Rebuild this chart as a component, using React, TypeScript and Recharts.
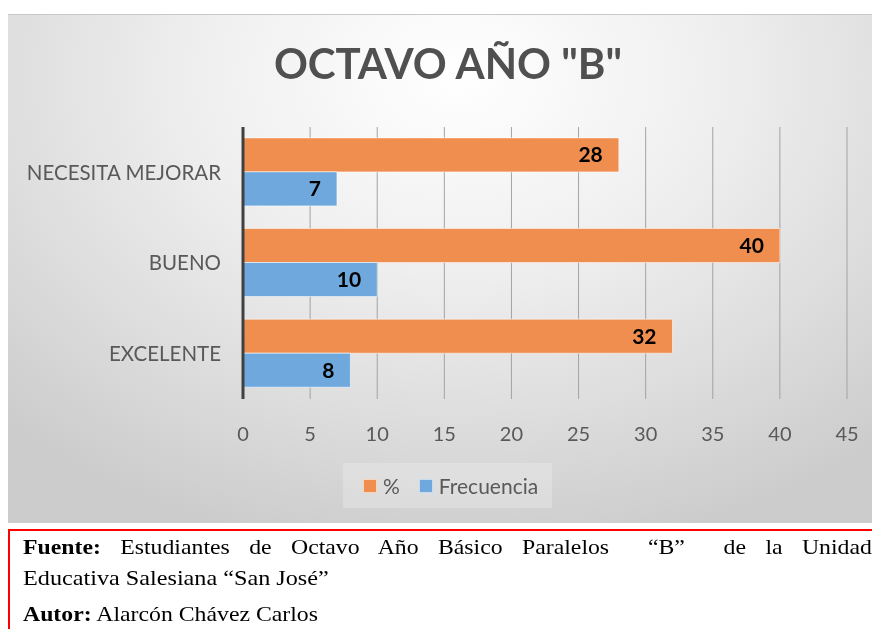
import { Bar, BarChart, CartesianGrid, LabelList, Legend, XAxis, YAxis } from "recharts"

const categories = ["NECESITA MEJORAR", "BUENO", "EXCELENTE"]
const porcentaje = [28, 40, 32]
const frecuencia = [7, 10, 8]
const xTicks = [0, 5, 10, 15, 20, 25, 30, 35, 40, 45]

const data = categories.map((name, i) => ({
  name,
  pct: porcentaje[i],
  frec: frecuencia[i],
}))

const ORANGE = "#ef8e4f"
const BLUE = "#6fa8dc"
const TEXT = "#595959"
const FONT = "Lato, 'Open Sans', sans-serif"

function LegendBox(props: any) {
  const items = props.payload || []
  return (
    <div
      style={{
        width: 209,
        height: 45,
        background: "rgba(255,255,255,0.22)",
        display: "flex",
        alignItems: "center",
        boxSizing: "border-box",
        paddingLeft: 20,
        fontFamily: FONT,
        fontSize: 21,
        color: TEXT,
      }}
    >
      {items.map((it: any, i: number) => (
        <div key={i} style={{ display: "flex", alignItems: "center", marginRight: 19 }}>
          <span
            style={{
              width: 14,
              height: 14,
              background: it.color,
              border: "1px solid rgba(255,255,255,0.6)",
              boxSizing: "border-box",
              marginRight: 6,
            }}
          />
          <span>{it.value}</span>
        </div>
      ))}
    </div>
  )
}

export default function App() {
  return (
    <div>
      <div
        style={{
          position: "fixed",
          top: 14,
          left: 8,
          width: 864,
          height: 509,
          borderTop: "1px solid #c8c8c8",
          boxSizing: "border-box",
          overflow: "hidden",
          background:
            "radial-gradient(ellipse 75% 95% at 52% 12%, #ffffff 0%, #efefef 40%, #dedede 70%, #cccccc 100%)",
        }}
      >
        <div
          style={{
            position: "absolute",
            top: 27,
            left: 0,
            width: 864,
            paddingLeft: 16,
            boxSizing: "border-box",
            textAlign: "center",
            fontFamily: FONT,
            fontWeight: 700,
            fontSize: 42,
            lineHeight: 1,
            color: "#505050",
          }}
        >
          OCTAVO AÑO "B"
        </div>
        <BarChart
          width={864}
          height={508}
          data={data}
          layout="vertical"
          margin={{ top: 112, right: 25, left: 0, bottom: 64 }}
          barCategoryGap="12%"
          barGap={0}
          style={{ position: "absolute", top: 0, left: 0 }}
        >
          <CartesianGrid horizontal={false} stroke="#a3a3a3" />
          <XAxis
            type="number"
            domain={[0, 45]}
            ticks={xTicks}
            height={60}
            axisLine={false}
            tickLine={false}
            tickMargin={22}
            tick={{ fill: TEXT, fontSize: 20, fontFamily: FONT }}
          />
          <YAxis
            type="category"
            dataKey="name"
            width={235}
            tickLine={false}
            tickMargin={16}
            axisLine={{ stroke: "#404040", strokeWidth: 3 }}
            tick={{ fill: TEXT, fontSize: 20.5, fontFamily: FONT }}
          />
          <Legend
            layout="vertical"
            align="center"
            verticalAlign="middle"
            content={<LegendBox />}
            wrapperStyle={{ top: 448, left: 335, width: 209, height: 45 }}
          />
          <Bar dataKey="pct" name="%" fill={ORANGE} stroke="rgba(255,255,255,0.55)" isAnimationActive={false}>
            <LabelList
              dataKey="pct"
              position="insideRight"
              offset={16}
              fill="#000"
              fontSize={21}
              fontWeight={700}
              fontFamily={FONT}
            />
          </Bar>
          <Bar dataKey="frec" name="Frecuencia" fill={BLUE} stroke="rgba(255,255,255,0.55)" isAnimationActive={false}>
            <LabelList
              dataKey="frec"
              position="insideRight"
              offset={16}
              fill="#000"
              fontSize={21}
              fontWeight={700}
              fontFamily={FONT}
            />
          </Bar>
        </BarChart>
      </div>
      <div
        style={{
          position: "fixed",
          top: 529,
          left: 8,
          width: 880,
          height: 120,
          borderTop: "2px solid #ff0000",
          borderLeft: "2px solid #ff0000",
          fontFamily: "'Liberation Serif', 'Times New Roman', serif",
          fontSize: 22,
          lineHeight: 1,
          color: "#000",
        }}
      >
        <div
          style={{
            position: "absolute",
            top: 5,
            left: 13,
            width: 786,
            textAlign: "justify",
            textAlignLast: "justify",
            transform: "scaleX(1.08)",
            transformOrigin: "left top",
            whiteSpace: "nowrap",
          }}
        >
          <b>Fuente:</b> Estudiantes de Octavo Año Básico Paralelos &nbsp;“B” &nbsp;de la Unidad
        </div>
        <div
          style={{
            position: "absolute",
            top: 36,
            left: 13,
            transform: "scaleX(1.1)",
            transformOrigin: "left top",
            whiteSpace: "nowrap",
          }}
        >
          Educativa Salesiana “San José”
        </div>
        <div
          style={{
            position: "absolute",
            top: 72,
            left: 13,
            transform: "scaleX(1.08)",
            transformOrigin: "left top",
            whiteSpace: "nowrap",
          }}
        >
          <b>Autor:</b> Alarcón Chávez Carlos
        </div>
      </div>
    </div>
  )
}
